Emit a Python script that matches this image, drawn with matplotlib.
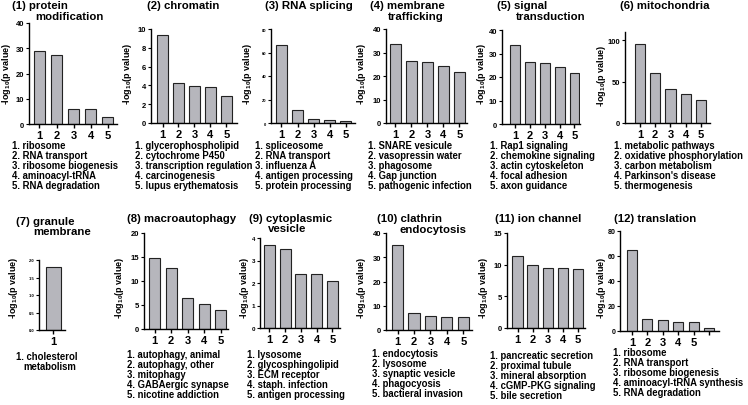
import matplotlib
matplotlib.use("Agg")
import matplotlib.pyplot as plt

plt.rcParams['font.family'] = ['Liberation Sans', 'DejaVu Sans']
plt.rcParams['font.weight'] = 'bold'
plt.rcParams['mathtext.fontset'] = 'custom'
plt.rcParams['mathtext.rm'] = 'Liberation Sans:bold'
plt.rcParams['mathtext.bf'] = 'Liberation Sans:bold'

W, H = 748, 406

# ---- data ----
titles = ["(1) protein\nmodification", "(2) chromatin", "(3) RNA splicing",
          "(4) membrane\ntrafficking", "(5) signal\ntransduction", "(6) mitochondria",
          "(7) granule\nmembrane", "(8) macroautophagy", "(9) cytoplasmic\nvesicle",
          "(10) clathrin\nendocytosis", "(11) ion channel", "(12) translation"]

vals_protein = [28.8, 27.5, 6.0, 5.8, 2.7]
vals_chromatin = [9.4, 4.3, 3.9, 3.8, 2.9]
vals_splicing = [66, 11, 3.5, 2.5, 2.0]
vals_membrane = [33.5, 26.2, 26.0, 24.3, 21.8]
vals_signal = [33.5, 26.2, 26.0, 24.3, 21.8]
vals_mito = [95, 60, 41, 35, 27.5]
vals_granule = [1.8]
vals_autophagy = [14.8, 12.8, 6.5, 5.2, 4.0]
vals_vesicle = [3.7, 3.5, 2.4, 2.4, 2.1]
vals_clathrin = [35, 7.0, 5.8, 5.5, 5.5]
vals_ion = [11.3, 10.0, 9.5, 9.5, 9.3]
vals_translation = [65, 9.5, 9.0, 7.5, 7.0, 2.5]

values = [vals_protein, vals_chromatin, vals_splicing, vals_membrane, vals_signal,
          vals_mito, vals_granule, vals_autophagy, vals_vesicle, vals_clathrin,
          vals_ion, vals_translation]

terms = [
    ["ribosome", "RNA transport", "ribosome biogenesis", "aminoacyl-tRNA", "RNA degradation"],
    ["glycerophospholipid", "cytochrome P450", "transcription regulation", "carcinogenesis",
     "lupus erythematosis"],
    ["spliceosome", "RNA transport", "influenza A", "antigen processing", "protein processing"],
    ["SNARE vesicule", "vasopressin water", "phagosome", "Gap junction", "pathogenic infection"],
    ["Rap1 signaling", "chemokine signaling", "actin cytoskeleton", "focal adhesion",
     "axon guidance"],
    ["metabolic pathways", "oxidative phosphorylation", "carbon metabolism",
     "Parkinson's disease", "thermogenesis"],
    ["cholesterol\nmetabolism"],
    ["autophagy, animal", "autophagy, other", "mitophagy", "GABAergic synapse",
     "nicotine addiction"],
    ["lysosome", "glycosphingolipid", "ECM receptor", "staph. infection", "antigen processing"],
    ["endocytosis", "lysosome", "synaptic vesicle", "phagocyosis", "bactieral invasion"],
    ["pancreatic secretion", "proximal tubule", "mineral absorption", "cGMP-PKG signaling",
     "bile secretion"],
    ["ribosome", "RNA transport", "ribosome biogenesis", "aminoacyl-tRNA synthesis",
     "RNA degradation"],
]

ymax = [40, 10, 80, 40, 40, 110, 2, 20, 4, 40, 15, 80]
ystep = [10, 2, 20, 10, 10, 50, 0.5, 5, 1, 10, 5, 20]

# ---- layout (pixels) ----
boxes = [(29, 24, 117, 125), (151, 30, 237, 124), (271, 30, 355, 124),
         (386, 30, 467, 124), (502, 31, 580, 125), (625, 33, 710, 124),
         (39, 261, 65, 331), (144, 234, 228, 330), (260, 239, 340, 329),
         (386, 234, 472, 331), (507, 234, 585, 329), (620, 232, 719, 332)]
xlims = [(0.39, 5.53), (0.28, 5.66), (0.35, 5.56), (0.41, 5.47), (0.13, 5.37),
         (0.02, 5.59), (0.37, 1.5), (0.36, 5.45), (0.40, 5.48), (0.30, 5.52),
         (0.30, 5.46), (0.22, 6.65)]
widths = [0.65, 0.69, 0.68, 0.69, 0.67, 0.66, 0.65, 0.67, 0.70, 0.67, 0.69, 0.65]
title_pos = [((12, 6), (35, 17)), ((147, 6), None), ((265, 6), None),
             ((370, 6), (388, 17)), ((497, 6), (516, 17)), ((620, 6), None),
             ((16, 222), (33, 232)), ((127, 219), None), ((249, 219), (268, 229)),
             ((377, 219), (399, 230)), ((495, 219), None), ((614, 219), None)]
list_pos = [(12, 146), (135, 146), (255, 146), (368, 146), (490, 146), (614, 146),
            (16, 357), (127, 355), (247, 355), (372, 354), (490, 356), (613, 353)]
ylab_pos = [(7, 74), (127, 74), (247, 74), (362, 74), (481, 74), (602, 76),
            (13, 288), (120, 288), (244, 288), (362, 288), (483, 288), (601, 288)]
ytick_size = [5.5, 5.5, 3, 5.5, 5.5, 5.5, 3, 5.5, 4.5, 5.5, 5.5, 5]

bar_color = '#b6b6bc'
fig = plt.figure(figsize=(W / 100, H / 100), dpi=100)


def fx(x):
    return x / W


def fy(y):
    return 1 - y / H


for i in range(12):
    l, t, r, b = boxes[i]
    ax = fig.add_axes([fx(l), fy(b), (r - l) / W, (b - t) / H])
    v = values[i]
    pos = list(range(1, len(v) + 1))
    ax.bar(pos, v, width=widths[i], color=bar_color, edgecolor='#222222', linewidth=0.8)
    ax.set_xlim(*xlims[i])
    ax.set_ylim(0, ymax[i])
    step = ystep[i]
    n = int(round(ymax[i] // step))
    ticks = [k * step for k in range(n + 1)]
    ax.set_yticks(ticks)
    if step < 1:
        ax.set_yticklabels(['%.1f' % tk for tk in ticks])
    ax.set_xticks(pos)
    if len(v) == 6:
        ax.set_xticklabels(['1', '2', '3', '4', '5', ''])
    for s in ['top', 'right']:
        ax.spines[s].set_visible(False)
    for s in ['left', 'bottom']:
        ax.spines[s].set_linewidth(1.0)
    ax.tick_params(axis='x', length=3, width=1.0, pad=1.5, labelsize=8)
    ax.tick_params(axis='y', length=2.5, width=0.8, pad=1, labelsize=ytick_size[i])

    # title lines
    lines = titles[i].split('\n')
    for line, p in zip(lines, title_pos[i]):
        fig.text(fx(p[0]), fy(p[1]), line, ha='left', va='center', fontsize=8.2,
                 fontweight='bold')

    # y label
    fig.text(fx(ylab_pos[i][0]), fy(ylab_pos[i][1]), r'-log$_{\mathbf{10}}$(p value)',
             rotation=90, ha='center', va='center', fontsize=6.5, fontweight='bold')

    # numbered term list
    x0, y0 = list_pos[i]
    row = 0
    for k, term in enumerate(terms[i]):
        parts = term.split('\n')
        fig.text(fx(x0), fy(y0 + row * 10), '%d. %s' % (k + 1, parts[0]),
                 ha='left', va='center', fontsize=6.85, fontweight='bold')
        row += 1
        for extra in parts[1:]:
            fig.text(fx(x0 + 7), fy(y0 + row * 10), extra,
                     ha='left', va='center', fontsize=6.85, fontweight='bold')
            row += 1

fig.savefig('out.png', dpi=100)
